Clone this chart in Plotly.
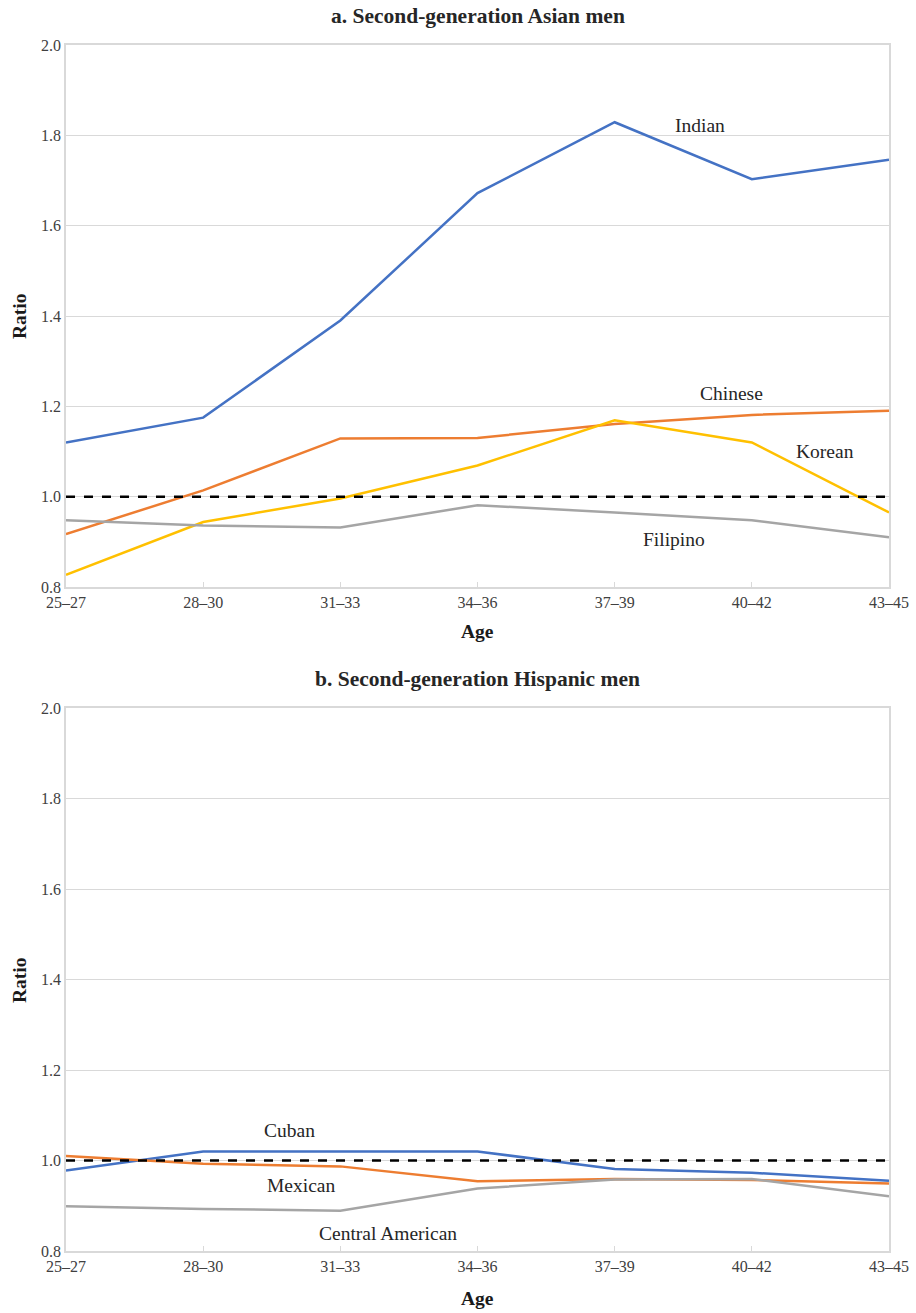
import plotly.graph_objects as go

# Age groups on the x axis
ages = ["25–27", "28–30", "31–33", "34–36", "37–39", "40–42", "43–45"]

# Panel a: second-generation Asian men
indian = [1.120, 1.175, 1.390, 1.672, 1.829, 1.703, 1.746]
chinese = [0.917, 1.014, 1.129, 1.130, 1.161, 1.181, 1.190]
korean = [0.827, 0.944, 0.996, 1.069, 1.169, 1.120, 0.965]
filipino = [0.948, 0.936, 0.932, 0.981, 0.965, 0.948, 0.910]

# Panel b: second-generation Hispanic men
cuban = [0.978, 1.020, 1.020, 1.020, 0.981, 0.973, 0.955]
mexican = [1.010, 0.993, 0.987, 0.954, 0.959, 0.957, 0.949]
central_american = [0.899, 0.893, 0.889, 0.938, 0.958, 0.959, 0.921]

# Parity reference
parity = [1.0] * len(ages)

BLUE, ORANGE, GRAY, GOLD = "#4472C4", "#ED7D31", "#A5A5A5", "#FFC000"
FONT = "Liberation Serif, Times New Roman, serif"
GRID = "#D9D9D9"

W, H = 916, 1313
M_L, M_R, M_T, M_B = 66, 27, 45, 62
PLOT_H = H - M_T - M_B


def py(px):
    """Convert a pixel row to paper y."""
    return (H - M_B - px) / PLOT_H


def px_x(px):
    return (px - M_L) / (W - M_L - M_R)


fig = go.Figure()

panels = [
    ("x", "y", [(indian, BLUE), (chinese, ORANGE), (korean, GOLD), (filipino, GRAY)]),
    ("x2", "y2", [(cuban, BLUE), (mexican, ORANGE), (central_american, GRAY)]),
]
names_a = ["Indian", "Chinese", "Korean", "Filipino"]
names_b = ["Cuban", "Mexican", "Central American"]

for (xa, ya, series), names in zip(panels, [names_a, names_b]):
    for (vals, col), nm in zip(series, names):
        fig.add_trace(go.Scatter(
            x=ages, y=vals, mode="lines", name=nm, xaxis=xa, yaxis=ya,
            line=dict(color=col, width=2.5), showlegend=False))
    fig.add_trace(go.Scatter(
        x=ages, y=parity, mode="lines", xaxis=xa, yaxis=ya, showlegend=False,
        line=dict(color="black", width=2.5, dash="dash"), hoverinfo="skip"))

tick_font = dict(family=FONT, size=16, color="#404040")
axis_common = dict(
    showline=True, linecolor=GRID, linewidth=1.5, mirror=True,
    tickfont=tick_font, automargin=False,
)
xaxis_common = dict(
    axis_common, type="category", range=[0, 6], showgrid=False,
    ticks="inside", ticklen=5, tickcolor=GRID, zeroline=False,
)
yaxis_common = dict(
    axis_common, range=[0.8, 2.0], dtick=0.2, tick0=0.8, tickformat=".1f",
    showgrid=True, gridcolor=GRID, gridwidth=1.2, zeroline=False, ticks="",
)

top_dom = [py(587), 1.0]
bot_dom = [0.0, py(708)]

fig.update_layout(
    width=W, height=H,
    margin=dict(l=M_L, r=M_R, t=M_T, b=M_B),
    paper_bgcolor="white", plot_bgcolor="white",
    font=dict(family=FONT, size=16, color="#404040"),
    xaxis=dict(xaxis_common, domain=[0, 1], anchor="y"),
    yaxis=dict(yaxis_common, domain=top_dom, anchor="x"),
    xaxis2=dict(xaxis_common, domain=[0, 1], anchor="y2"),
    yaxis2=dict(yaxis_common, domain=bot_dom, anchor="x2"),
    hovermode="closest",
)

title_font = dict(family=FONT, size=21.5, color="#262626")
label_font = dict(family=FONT, size=19.5, color="#262626")
bold_font = dict(family=FONT, size=19.5, color="#1a1a1a")

annotations = [
    # panel titles
    dict(text="<b>a. Second-generation Asian men</b>", x=0.5, y=py(16), font=title_font),
    dict(text="<b>b. Second-generation Hispanic men</b>", x=0.5, y=py(679), font=title_font),
    # axis titles
    dict(text="<b>Age</b>", x=0.5, y=py(632), font=bold_font),
    dict(text="<b>Age</b>", x=0.5, y=py(1298), font=bold_font),
    dict(text="<b>Ratio</b>", x=px_x(19), y=py(316), font=bold_font, textangle=-90),
    dict(text="<b>Ratio</b>", x=px_x(19), y=py(980), font=bold_font, textangle=-90),
    # series labels
    dict(text="Indian", x=px_x(700), y=py(125), font=label_font),
    dict(text="Chinese", x=px_x(731), y=py(394), font=label_font),
    dict(text="Korean", x=px_x(825), y=py(452), font=label_font),
    dict(text="Filipino", x=px_x(674), y=py(539), font=label_font),
    dict(text="Cuban", x=px_x(289), y=py(1130), font=label_font),
    dict(text="Mexican", x=px_x(301), y=py(1185), font=label_font),
    dict(text="Central American", x=px_x(388), y=py(1233), font=label_font),
]
for a in annotations:
    a.update(xref="paper", yref="paper", showarrow=False,
             xanchor="center", yanchor="middle")
fig.update_layout(annotations=annotations)

fig.write_html("out.html")
